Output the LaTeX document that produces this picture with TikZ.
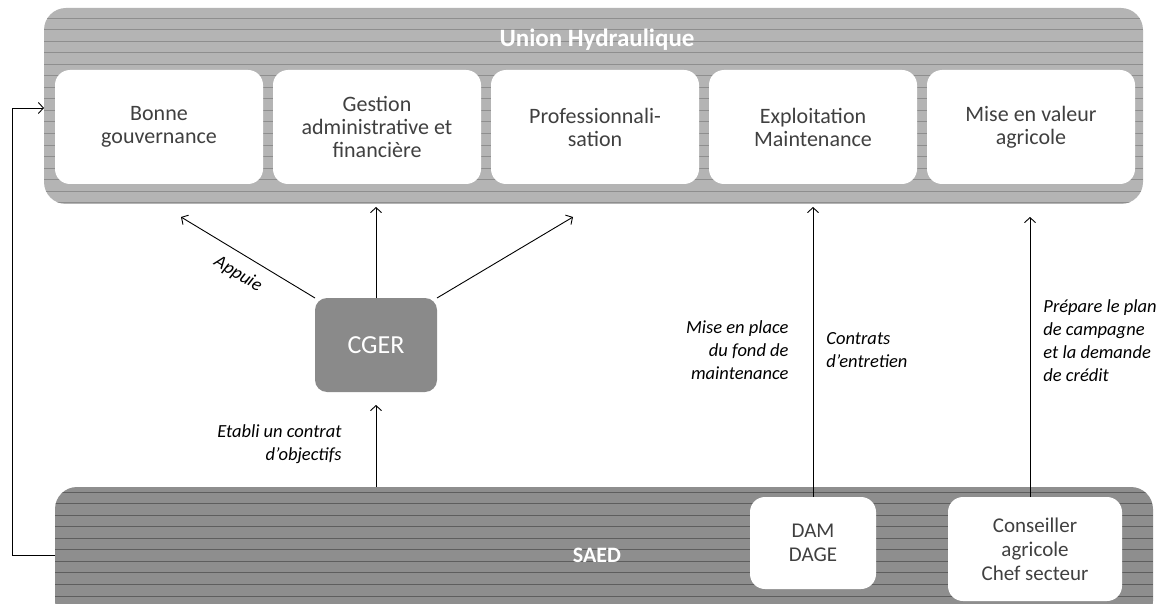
\documentclass[tikz,border=0pt]{standalone}
\usepackage{fontspec}
\setmainfont{Carlito}
\usetikzlibrary{positioning, arrows.meta}

\definecolor{uhfill}{HTML}{B4B4B4}
\definecolor{uhline}{HTML}{8E8E8E}
\definecolor{saedfill}{HTML}{8E8E8E}
\definecolor{saedline}{HTML}{5E5E5E}
\definecolor{cgerfill}{HTML}{8A8A8A}
\definecolor{boxtext}{HTML}{404040}

\tikzset{
  striped/.style n args={3}{path picture={
    \foreach \k in {0,...,#3}
      \draw[#1, line width=0.9pt] ([yshift=-#2-\k*11.55pt]path picture bounding box.north west)
        -- ([yshift=-#2-\k*11.55pt]path picture bounding box.north east);}},
}

\begin{document}
\begin{tikzpicture}[x=1pt, y=-1pt, node distance=10pt,
    arr/.style={-{Straight Barb[length=5pt,width=11pt]}, line width=0.9pt}]
  \tikzstyle{band}=[rounded corners=22pt, inner sep=0pt, outer sep=0pt]
  \tikzstyle{unit}=[fill=white, rounded corners=15pt, minimum width=208pt, minimum height=114pt, text=boxtext, align=center, font=\fontsize{22}{23}\selectfont, inner sep=2pt, outer sep=0pt]
  \tikzstyle{heading}=[font=\fontsize{22}{24}\selectfont\bfseries, text=white]
  \tikzstyle{lbl}=[font=\fontsize{18.5}{23}\selectfont\itshape, inner sep=0pt]

  \clip (0,0) rectangle (1164,604);
  \fill[white] (0,0) rectangle (1164,604);

  % Union Hydraulique
  \node[band, fill=uhfill, striped={uhline}{10pt}{16}, minimum width=1099pt, minimum height=196pt] (uh) at (593.5,106) {};
  \node[heading, font=\fontsize{25}{27}\selectfont\bfseries] (uhtitle) at (597,40) {Union Hydraulique};
  \node[unit] (bg) at (159,127) {Bonne\\gouvernance};
  \node[unit, right=of bg] (gaf) {Gestion\\administrative et\\financière};
  \node[unit, right=of gaf] (pro) {Professionnali-\\sation};
  \node[unit, right=of pro] (em) {Exploitation\\Maintenance};
  \node[unit, right=of em] (mva) {Mise en valeur\\agricole};

  % SAED
  \node[band, fill=saedfill, striped={saedline}{5pt}{12}, minimum width=1098pt, minimum height=136pt] (saed) at (604,555) {};
  \node[heading] (saedtitle) at (597,555) {SAED};
  \node[unit, minimum width=126pt, minimum height=92pt, font=\fontsize{21}{24}\selectfont] (dam) at (813,543) {DAM\\DAGE};
  \node[unit, minimum width=174pt, minimum height=104pt, font=\fontsize{21}{24}\selectfont] (cons) at (1035,549) {Conseiller\\agricole\\Chef secteur};

  % CGER
  \node[fill=cgerfill, rounded corners=12pt, minimum width=122pt, minimum height=94pt, text=white, font=\fontsize{26}{28}\selectfont, outer sep=0pt] (cger) at (376,345) {CGER};

  \coordinate (appL) at (181,217);
  \coordinate (appR) at (573,217);
  \coordinate (fb) at (12,108);

  \draw[arr] (cger.north west) -- node[lbl, sloped, below=11pt] {Appuie} (appL);
  \draw[arr] (cger.north) -- ([yshift=-3pt]cger.north |- uh.south);
  \draw[arr] (cger.north east) -- (appR);
  \draw[arr, shorten >=13pt] (cger.south |- saed.north) -- node[lbl, pos=0.45, left=34pt, align=right] {Etabli un contrat\\d’objectifs} (cger.south);
  \draw[arr, shorten >=3pt] (dam.north) -- node[lbl, left=24pt, align=right] {Mise en place\\du fond de\\maintenance} node[lbl, right=13pt, align=left] {Contrats\\d’entretien} (dam.north |- uh.south);
  \draw[arr, shorten >=13pt] ([xshift=-5pt]cons.north) -- node[lbl, pos=0.534, right=13pt, align=left] {Prépare le plan\\de campagne\\et la demande\\de crédit} ([xshift=-5pt]cons.north |- uh.south);
  \draw[arr] (saed.west) -| (fb) -- (fb -| uh.west);
\end{tikzpicture}
\end{document}
